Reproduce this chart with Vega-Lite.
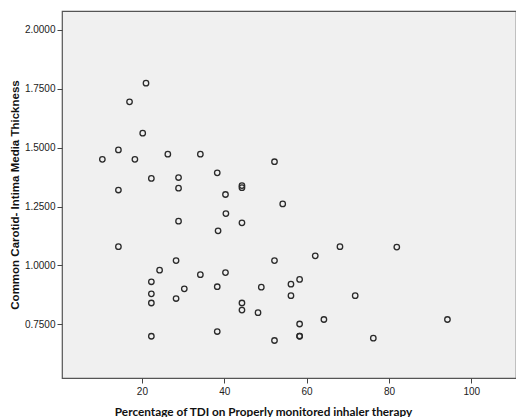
{
  "$schema": "https://vega.github.io/schema/vega-lite/v6.json",
  "width": 454,
  "height": 367,
  "autosize": "none",
  "padding": {"left": 62, "top": 11, "right": 0, "bottom": 39},
  "background": "#ffffff",
  "config": {
    "view": {"fill": "#f0f0f0", "stroke": "#555555", "strokeWidth": 1.2},
    "axis": {"grid": false, "domain": false, "tickColor": "#444444", "tickSize": 5, "labelColor": "#222222", "labelFont": "Liberation Sans", "labelFontSize": 10, "titleColor": "#111111"}
  },
  "data": {"values": [
    {"tdi": 10.4, "cimt": 1.450},
    {"tdi": 14.3, "cimt": 1.490},
    {"tdi": 14.3, "cimt": 1.320},
    {"tdi": 17.0, "cimt": 1.694},
    {"tdi": 18.3, "cimt": 1.450},
    {"tdi": 20.2, "cimt": 1.561},
    {"tdi": 21.0, "cimt": 1.773},
    {"tdi": 22.3, "cimt": 1.369},
    {"tdi": 26.3, "cimt": 1.472},
    {"tdi": 28.9, "cimt": 1.373},
    {"tdi": 28.9, "cimt": 1.328},
    {"tdi": 34.2, "cimt": 1.472},
    {"tdi": 38.3, "cimt": 1.393},
    {"tdi": 40.3, "cimt": 1.301},
    {"tdi": 44.3, "cimt": 1.339},
    {"tdi": 44.3, "cimt": 1.330},
    {"tdi": 28.9, "cimt": 1.188},
    {"tdi": 40.4, "cimt": 1.220},
    {"tdi": 44.3, "cimt": 1.181},
    {"tdi": 38.5, "cimt": 1.147},
    {"tdi": 14.3, "cimt": 1.080},
    {"tdi": 28.3, "cimt": 1.021},
    {"tdi": 24.3, "cimt": 0.980},
    {"tdi": 34.2, "cimt": 0.961},
    {"tdi": 40.3, "cimt": 0.970},
    {"tdi": 22.3, "cimt": 0.931},
    {"tdi": 22.3, "cimt": 0.880},
    {"tdi": 22.3, "cimt": 0.841},
    {"tdi": 30.3, "cimt": 0.901},
    {"tdi": 38.3, "cimt": 0.910},
    {"tdi": 28.3, "cimt": 0.860},
    {"tdi": 44.3, "cimt": 0.841},
    {"tdi": 44.3, "cimt": 0.811},
    {"tdi": 48.2, "cimt": 0.800},
    {"tdi": 38.3, "cimt": 0.720},
    {"tdi": 22.3, "cimt": 0.700},
    {"tdi": 49.0, "cimt": 0.908},
    {"tdi": 52.2, "cimt": 1.440},
    {"tdi": 54.2, "cimt": 1.261},
    {"tdi": 68.1, "cimt": 1.080},
    {"tdi": 81.9, "cimt": 1.078},
    {"tdi": 62.1, "cimt": 1.041},
    {"tdi": 52.2, "cimt": 1.021},
    {"tdi": 58.3, "cimt": 0.941},
    {"tdi": 56.2, "cimt": 0.921},
    {"tdi": 56.2, "cimt": 0.872},
    {"tdi": 71.8, "cimt": 0.872},
    {"tdi": 64.2, "cimt": 0.771},
    {"tdi": 94.2, "cimt": 0.771},
    {"tdi": 58.3, "cimt": 0.752},
    {"tdi": 58.3, "cimt": 0.700},
    {"tdi": 58.3, "cimt": 0.701},
    {"tdi": 76.2, "cimt": 0.692},
    {"tdi": 52.2, "cimt": 0.682}
  ]},
  "mark": {"type": "point", "shape": "circle", "filled": false, "stroke": "#2a2a2a", "strokeWidth": 1.3, "size": 30, "opacity": 1},
  "encoding": {
    "x": {
      "field": "tdi", "type": "quantitative",
      "scale": {"domain": [0.6, 110.85], "nice": false, "zero": false},
      "axis": {"values": [20, 40, 60, 80, 100], "title": "Percentage of TDI on Properly  monitored inhaler therapy", "titleFont": "Lato", "titleFontWeight": "bold", "titleFontSize": 11.8, "titlePadding": 10, "titleAnchor": "middle", "titleX": 201, "labelPadding": 3}
    },
    "y": {
      "field": "cimt", "type": "quantitative",
      "scale": {"domain": [0.523, 2.079], "nice": false, "zero": false},
      "axis": {"values": [0.75, 1.0, 1.25, 1.5, 1.75, 2.0], "format": ".4f", "title": "Common Carotid- Intima Media Thickness", "titleFont": "Liberation Sans", "titleFontWeight": "bold", "titleFontSize": 11.5, "titlePadding": 4, "labelPadding": 2}
    }
  }
}
